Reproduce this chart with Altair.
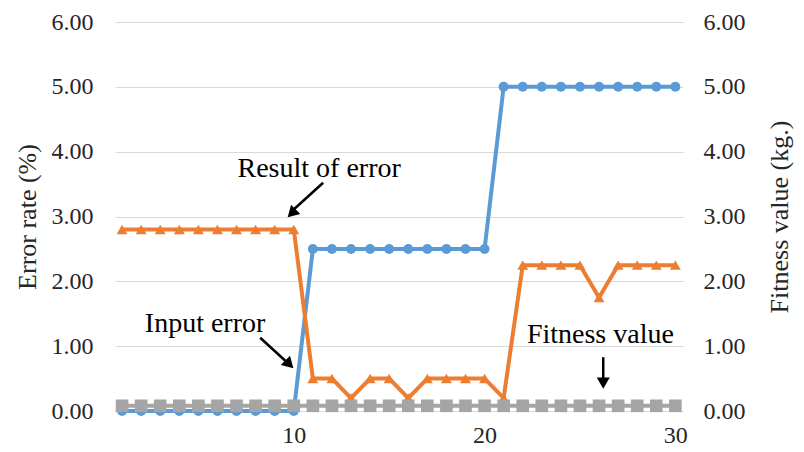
import altair as alt
import pandas as pd

# ---- data ----
x_vals = list(range(1, 31))
input_error = [0.0] * 10 + [2.5] * 10 + [5.0] * 10
result_error = ([2.8] * 10
                + [0.5, 0.5, 0.2, 0.5, 0.5, 0.2, 0.5, 0.5, 0.5, 0.5]
                + [0.2, 2.25, 2.25, 2.25, 2.25, 1.75, 2.25, 2.25, 2.25, 2.25])
fitness = [0.08] * 30

x_ticks = [10, 20, 30]
y_ticks = [0, 1, 2, 3, 4, 5, 6]

ann_labels = ["Result of error", "Input error", "Fitness value"]
ann_x = [11.33, 5.35, 26.07]
ann_y = [3.61, 1.22, 1.05]

arrow_x = [11.54, 8.24, 26.22]
arrow_y = [3.52, 1.13, 0.83]
arrow_x2 = [9.85, 9.80, 26.22]
arrow_y2 = [3.07, 0.71, 0.45]
head_x = [9.89, 9.77, 26.22]
head_y = [3.05, 0.72, 0.43]
head_angle = [225, 135, 180]

FONT = "Liberation Serif"
TXT = "#262626"
GRID = "#D9D9D9"

df = pd.DataFrame({"x": x_vals, "input": input_error,
                   "result": result_error, "fitness": fitness})
ann = pd.DataFrame({"label": ann_labels, "x": ann_x, "y": ann_y})
arr = pd.DataFrame({"x": arrow_x, "y": arrow_y, "x2": arrow_x2, "y2": arrow_y2})
heads = pd.DataFrame({"x": head_x, "y": head_y, "angle": head_angle})

xscale = alt.Scale(domain=[0.63, 30.4], nice=False, zero=False)
yscale = alt.Scale(domain=[0, 6], nice=False)

xaxis = alt.Axis(values=x_ticks, ticks=False, grid=False, title=None,
                 domainColor=GRID, domainWidth=1.2)
yaxis_left = alt.Axis(values=y_ticks, format=".2f", ticks=False, domain=False,
                      grid=True, gridColor=GRID, gridWidth=1.2,
                      title="Error rate (%)")
yaxis_right = alt.Axis(values=y_ticks, format=".2f", ticks=False, domain=False,
                       grid=False, orient="right",
                       title="Fitness value (kg.)")

base = alt.Chart(df)

blue = base.mark_line(color="#5B9BD5", strokeWidth=4,
                      point=alt.OverlayMarkDef(shape="circle", size=100, filled=True,
                                               color="#5B9BD5", opacity=1)).encode(
    x=alt.X("x:Q", scale=xscale, axis=xaxis),
    y=alt.Y("input:Q", scale=yscale, axis=yaxis_left))

orange = base.mark_line(color="#ED7D31", strokeWidth=4,
                        point=alt.OverlayMarkDef(shape="triangle-up", size=120, filled=True,
                                                 color="#ED7D31", opacity=1)).encode(
    x=alt.X("x:Q", scale=xscale),
    y=alt.Y("result:Q", scale=yscale))

texts = alt.Chart(ann).mark_text(font=FONT, fontSize=28, color="#000000",
                                 baseline="alphabetic").encode(
    x=alt.X("x:Q", scale=xscale),
    y=alt.Y("y:Q", scale=yscale),
    text="label:N")

rules = alt.Chart(arr).mark_rule(color="#000000", strokeWidth=2.5).encode(
    x=alt.X("x:Q", scale=xscale), y=alt.Y("y:Q", scale=yscale),
    x2="x2:Q", y2="y2:Q")

arrowheads = alt.Chart(heads).mark_point(shape="triangle-up", size=170, filled=True,
                                         color="#000000", opacity=1).encode(
    x=alt.X("x:Q", scale=xscale), y=alt.Y("y:Q", scale=yscale),
    angle=alt.Angle("angle:Q", scale=None))

left = alt.layer(blue, orange, texts, rules, arrowheads)

grey = base.mark_line(color="#A5A5A5", strokeWidth=4,
                      point=alt.OverlayMarkDef(shape="square", size=160, filled=True,
                                               color="#A5A5A5", opacity=1)).encode(
    x=alt.X("x:Q", scale=xscale),
    y=alt.Y("fitness:Q", scale=yscale, axis=yaxis_right))

chart = alt.layer(left, grey).resolve_scale(y="independent").properties(
    width=568, height=389,
    autosize=alt.AutoSizeParams(type="none"),
    padding={"left": 107, "top": 14, "right": 113, "bottom": 36},
    background="white",
).configure_view(stroke=None).configure_axis(
    labelFont=FONT, labelFontSize=24, labelColor=TXT,
    titleFont=FONT, titleFontSize=26, titleFontWeight="normal", titleColor=TXT,
).configure_axisBottom(
    labelPadding=12,
).configure_axisLeft(
    labelPadding=22, titlePadding=11,
).configure_axisRight(
    labelPadding=20, titlePadding=47, titleAngle=270,
)

chart.save("out.html", embed_options={"renderer": "svg", "actions": False})
